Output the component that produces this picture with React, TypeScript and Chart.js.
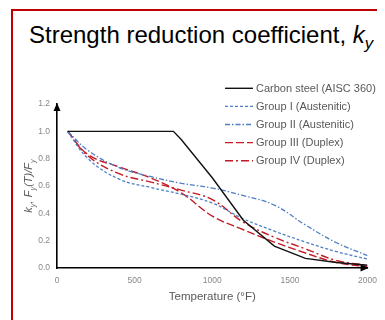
import React, { useEffect, useRef } from 'react';
import { Chart, registerables } from 'chart.js';

Chart.register(...registerables);

const seriesLabels = [
  'Carbon steel (AISC 360)',
  'Group I (Austenitic)',
  'Group II (Austenitic)',
  'Group III (Duplex)',
  'Group IV (Duplex)',
];
const carbonTemps = [68, 200, 400, 600, 750, 800, 1000, 1200, 1400, 1600, 1800, 2000];
const carbonSteel = [1, 1, 1, 1, 1, 0.94, 0.66, 0.35, 0.16, 0.07, 0.04, 0.02];
const stainlessTemps = [68, 200, 400, 600, 800, 1000, 1200, 1400, 1600, 1800, 2000];
const groupI = [1.0, 0.8, 0.65, 0.59, 0.54, 0.475, 0.36, 0.27, 0.19, 0.12, 0.065];
const groupII = [1.0, 0.86, 0.735, 0.67, 0.62, 0.585, 0.53, 0.46, 0.315, 0.185, 0.09];
const groupIII = [1.0, 0.83, 0.74, 0.66, 0.55, 0.38, 0.28, 0.19, 0.11, 0.04, 0.01];
const groupIV = [1.0, 0.82, 0.69, 0.63, 0.57, 0.5, 0.335, 0.225, 0.14, 0.055, 0.02];
const xTickStep = 500;
const yTickStep = 0.2;

const BLUE = '#4f7fc4';
const RED = '#c41a24';
const FONT = '"Liberation Sans", Arial, sans-serif';

const toPoints = (xs: number[], ys: number[]) => xs.map((x, i) => ({ x, y: ys[i] }));

const decorPlugin = {
  id: 'decor',
  afterDraw(chart: any) {
    const { ctx, chartArea } = chart;
    const { left, right, top, bottom } = chartArea;
    ctx.save();
    // arrowheads
    ctx.fillStyle = '#000';
    ctx.beginPath();
    ctx.moveTo(left, top - 1);
    ctx.lineTo(left - 3.5, top + 7);
    ctx.lineTo(left + 3.5, top + 7);
    ctx.closePath();
    ctx.fill();
    ctx.beginPath();
    ctx.moveTo(right + 1, bottom);
    ctx.lineTo(right - 7, bottom - 3.5);
    ctx.lineTo(right - 7, bottom + 3.5);
    ctx.closePath();
    ctx.fill();

    // legend
    const lx0 = 217;
    const lx1 = 245;
    const ly0 = 80.3;
    const dy = 18.1;
    ctx.font = `11px ${FONT}`;
    ctx.textBaseline = 'middle';
    ctx.textAlign = 'left';
    chart.data.datasets.forEach((ds: any, i: number) => {
      const y = ly0 + i * dy;
      ctx.strokeStyle = ds.borderColor;
      ctx.lineWidth = ds.borderWidth;
      ctx.setLineDash(ds.borderDash || []);
      ctx.beginPath();
      ctx.moveTo(lx0, y);
      ctx.lineTo(lx1, y);
      ctx.stroke();
      ctx.setLineDash([]);
      ctx.fillStyle = '#595959';
      ctx.fillText(ds.label, lx1 + 3, y + 0.5);
    });

    // x axis title
    ctx.fillStyle = '#595959';
    ctx.font = `11.5px ${FONT}`;
    ctx.textAlign = 'center';
    ctx.textBaseline = 'middle';
    ctx.fillText('Temperature (°F)', (left + right) / 2, 289);

    // y axis title (rotated, with subscripts)
    const segs = [
      { t: 'k', s: false },
      { t: 'y', s: true },
      { t: ', ', s: false },
      { t: 'F', s: false },
      { t: 'y', s: true },
      { t: '(T)/', s: false },
      { t: 'F', s: false },
      { t: 'y', s: true },
    ];
    const mainFont = `italic 11px ${FONT}`;
    const subFont = `italic 7.5px ${FONT}`;
    let total = 0;
    const widths = segs.map((sg) => {
      ctx.font = sg.s ? subFont : mainFont;
      const w = ctx.measureText(sg.t).width;
      total += w;
      return w;
    });
    ctx.translate(24, (top + bottom) / 2);
    ctx.rotate(-Math.PI / 2);
    ctx.textAlign = 'left';
    ctx.textBaseline = 'alphabetic';
    let x = -total / 2;
    segs.forEach((sg, i) => {
      ctx.font = sg.s ? subFont : mainFont;
      ctx.fillText(sg.t, x, sg.s ? 3 : 0);
      x += widths[i];
    });
    ctx.restore();
  },
};

export default function App() {
  const ref = useRef<HTMLCanvasElement>(null);
  useEffect(() => {
    const chart = new Chart(ref.current as HTMLCanvasElement, {
      type: 'line',
      data: {
        datasets: [
          {
            label: seriesLabels[0],
            data: toPoints(carbonTemps, carbonSteel),
            borderColor: '#111111',
            borderWidth: 1.4,
            borderDash: [],
            tension: 0,
          },
          {
            label: seriesLabels[1],
            data: toPoints(stainlessTemps, groupI),
            borderColor: BLUE,
            borderWidth: 1.3,
            borderDash: [3, 2],
            tension: 0.4,
          },
          {
            label: seriesLabels[2],
            data: toPoints(stainlessTemps, groupII),
            borderColor: BLUE,
            borderWidth: 1.3,
            borderDash: [5, 2, 1.5, 2],
            tension: 0.4,
          },
          {
            label: seriesLabels[3],
            data: toPoints(stainlessTemps, groupIII),
            borderColor: RED,
            borderWidth: 1.4,
            borderDash: [8, 3],
            tension: 0.4,
          },
          {
            label: seriesLabels[4],
            data: toPoints(stainlessTemps, groupIV),
            borderColor: RED,
            borderWidth: 1.4,
            borderDash: [8, 3, 2, 3],
            tension: 0.4,
          },
        ],
      },
      options: {
        responsive: false,
        animation: false,
        events: [],
        elements: { point: { radius: 0 } },
        layout: { padding: { top: 96, right: 14, left: 0, bottom: 0 } },
        plugins: {
          legend: { display: false },
          tooltip: { enabled: false },
          title: { display: false },
        },
        scales: {
          x: {
            type: 'linear',
            min: 0,
            max: 2000,
            grid: { display: false, drawTicks: false },
            border: { display: true, color: '#000', width: 1.6 },
            ticks: {
              stepSize: xTickStep,
              padding: 8,
              color: '#888888',
              font: { family: FONT, size: 8.5 },
              callback: (v: any) => String(v),
            },
            afterFit: (scale: any) => {
              scale.height = 52;
            },
          },
          y: {
            type: 'linear',
            min: 0,
            max: 1.2,
            grid: { display: false, drawTicks: false },
            border: { display: true, color: '#000', width: 1.6 },
            ticks: {
              stepSize: yTickStep,
              padding: 7,
              color: '#888888',
              font: { family: FONT, size: 8.5 },
              callback: (v: any) => Number(v).toFixed(1),
            },
            afterFit: (scale: any) => {
              scale.width = 49;
            },
          },
        },
      },
      plugins: [decorPlugin],
    } as any);
    return () => chart.destroy();
  }, []);

  return (
    <div style={{ position: 'relative', width: 377, height: 312, overflow: 'hidden' }}>
      <div
        style={{
          position: 'absolute',
          left: 3,
          top: 1,
          width: 420,
          height: 420,
          border: '2px solid #c00000',
          boxSizing: 'border-box',
        }}
      />
      <div
        style={{
          position: 'absolute',
          left: 21,
          top: 13,
          fontFamily: FONT,
          fontSize: 24,
          lineHeight: '28px',
          color: '#000',
          whiteSpace: 'nowrap',
        }}
      >
        Strength reduction coefficient,{' '}
        <i>
          k
          <span style={{ fontSize: '0.7em', position: 'relative', top: '0.35em' }}>y</span>
        </i>
      </div>
      <canvas
        ref={ref}
        width={377}
        height={312}
        style={{ position: 'absolute', left: 0, top: 0 }}
      />
    </div>
  );
}
